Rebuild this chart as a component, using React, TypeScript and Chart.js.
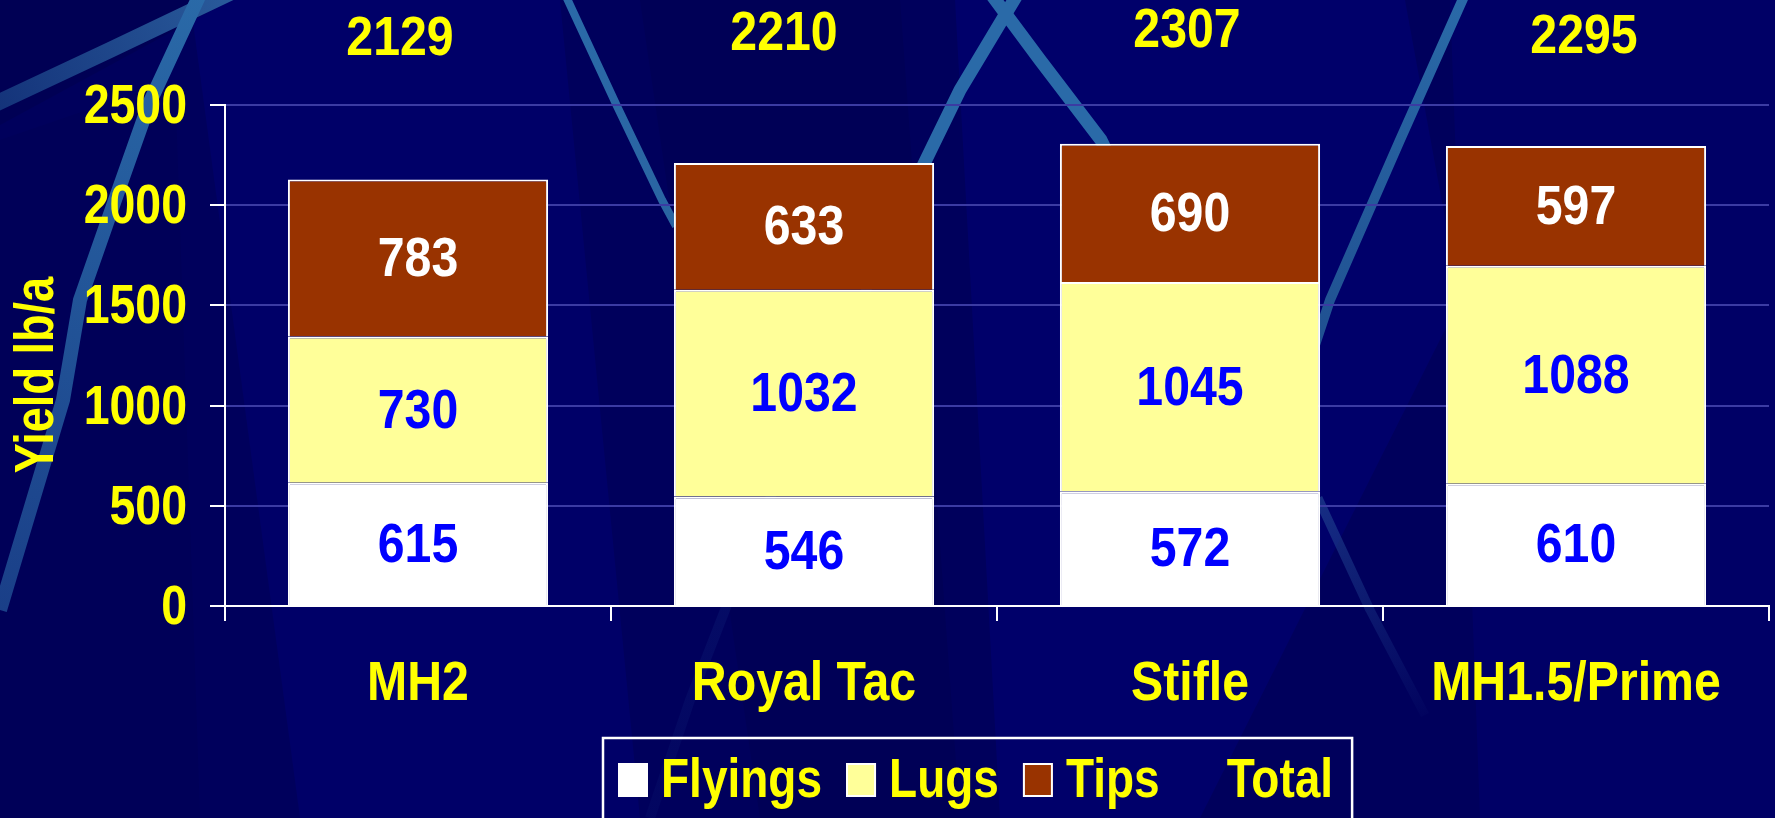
import React, { useEffect, useRef } from "react";
import { Chart, registerables } from "chart.js";

Chart.register(...registerables);

// ---------- data ----------
const categories = ["MH2", "Royal Tac", "Stifle", "MH1.5/Prime"];
const flyings = [615, 546, 572, 610];
const lugs = [730, 1032, 1045, 1088];
const tips = [783, 633, 690, 597];
const totals = [2129, 2210, 2307, 2295];
const yTicks = [0, 500, 1000, 1500, 2000, 2500];
const seriesNames = ["Flyings", "Lugs", "Tips"];
const totalName = "Total";
const yTitle = "Yield lb/a";

// ---------- style ----------
const W = 1775;
const H = 818;
const YELLOW = "#FFFF00";
const BLUE = "#0000FF";
const WHITE = "#FFFFFF";
const SERIES_COLORS = ["#FFFFFF", "#FFFF99", "#993300"];
const LABEL_COLORS = [BLUE, BLUE, WHITE];
const TOTAL_NUDGE_X = [-18, -20, -3, 8];
const TOTAL_NUDGE_Y = [0, -5, -8, -2];
const FONT_PX = 55;
const SQUEEZE = 0.82;

function detectNarrow(): boolean {
  try {
    const c = document.createElement("canvas").getContext("2d");
    if (!c) return false;
    const s = "Flyings Royal Tac 0123456789";
    c.font = `bold 50px serif`;
    const a = c.measureText(s).width;
    c.font = `bold 50px 'Liberation Sans Narrow', serif`;
    const b = c.measureText(s).width;
    return Math.abs(a - b) > 1;
  } catch (e) {
    return false;
  }
}

let NARROW = false;

function fontStr() {
  return NARROW
    ? `bold ${FONT_PX}px 'Liberation Sans Narrow'`
    : `bold ${FONT_PX}px 'Liberation Sans', Arial, sans-serif`;
}

function drawText(
  ctx: CanvasRenderingContext2D,
  s: string,
  x: number,
  y: number,
  color: string,
  align: CanvasTextAlign,
  sx = 1,
  rotate = 0
) {
  ctx.save();
  ctx.translate(x, y);
  if (rotate) ctx.rotate(rotate);
  ctx.font = fontStr();
  ctx.scale(sx * (NARROW ? 1 : SQUEEZE), 1);
  ctx.textAlign = align;
  ctx.textBaseline = "alphabetic";
  ctx.fillStyle = color;
  ctx.fillText(s, 0, 0);
  ctx.restore();
}

function textWidth(ctx: CanvasRenderingContext2D, s: string, sx = 1) {
  ctx.save();
  ctx.font = fontStr();
  const w = ctx.measureText(s).width * sx * (NARROW ? 1 : SQUEEZE);
  ctx.restore();
  return w;
}

function streak(
  ctx: CanvasRenderingContext2D,
  pts: number[][],
  width: number,
  c1: string,
  c2: string
) {
  const g = ctx.createLinearGradient(pts[0][0], pts[0][1], pts[pts.length - 1][0], pts[pts.length - 1][1]);
  g.addColorStop(0, c1);
  g.addColorStop(1, c2);
  ctx.beginPath();
  ctx.moveTo(pts[0][0], pts[0][1]);
  for (let i = 1; i < pts.length; i++) ctx.lineTo(pts[i][0], pts[i][1]);
  ctx.strokeStyle = g;
  ctx.lineWidth = width;
  ctx.lineCap = "butt";
  ctx.lineJoin = "round";
  ctx.stroke();
}

function poly(ctx: CanvasRenderingContext2D, pts: number[][], color: string) {
  ctx.beginPath();
  ctx.moveTo(pts[0][0], pts[0][1]);
  for (let i = 1; i < pts.length; i++) ctx.lineTo(pts[i][0], pts[i][1]);
  ctx.closePath();
  ctx.fillStyle = color;
  ctx.fill();
}

const backgroundPlugin = {
  id: "slideBackground",
  beforeDraw(chart: any) {
    const ctx: CanvasRenderingContext2D = chart.ctx;
    ctx.save();
    ctx.fillStyle = "#00005C";
    ctx.fillRect(0, 0, chart.width, chart.height);
    // subtle facets
    poly(ctx, [[190, 0], [560, 0], [640, 818], [300, 818]], "#000068");
    poly(ctx, [[0, 125], [230, 0], [0, 0]], "#000054");
    poly(ctx, [[0, 140], [175, 80], [200, 818], [0, 818]], "#000058");
    poly(ctx, [[955, 0], [1405, 0], [1460, 300], [1200, 818], [1000, 818]], "#00006A");
    poly(ctx, [[1450, 0], [1775, 0], [1775, 818], [1480, 818]], "#000066");
    poly(ctx, [[640, 0], [900, 0], [960, 818], [760, 818]], "#000056");
    // light streaks
    streak(ctx, [[-5, 104], [110, 50], [240, -12]], 16, "#14337a", "#2a5c9c");
    streak(ctx, [[201, -8], [149, 104], [115, 200], [80, 300], [63, 400], [0, 610]], 14, "#2a6aa8", "#1a3f88");
    streak(ctx, [[564, -8], [616, 104], [662, 200], [676, 226]], 8, "#2a6aa8", "#2a64a2");
    streak(ctx, [[1020, -10], [960, 90], [921, 170], [880, 260]], 13, "#2a6aa8", "#2a6aa8");
    streak(ctx, [[880, 260], [760, 520], [690, 700], [650, 818]], 10, "rgba(30,70,150,0.3)", "rgba(30,70,150,0.08)");
    streak(ctx, [[988, -10], [1040, 60], [1101, 140], [1130, 200]], 13, "#2a6aa8", "#2a6aa8");
    streak(ctx, [[1466, -8], [1400, 140], [1330, 300], [1310, 360]], 10, "#2a6aa8", "#1f4f90");
    streak(ctx, [[1318, 498], [1370, 610], [1425, 715]], 9, "rgba(30,62,140,0.75)", "rgba(30,62,140,0.05)");
    ctx.restore();
  },
};

const labelsPlugin = {
  id: "slideLabels",
  afterDraw(chart: any) {
    const ctx: CanvasRenderingContext2D = chart.ctx;
    const xs = chart.scales.x;
    const ys = chart.scales.y;

    // y tick labels
    yTicks.forEach((v) => {
      const y = ys.getPixelForValue(v);
      drawText(ctx, String(v), 187, y + 18, YELLOW, "right", 1.03);
    });

    // category labels
    categories.forEach((c, i) => {
      drawText(ctx, c, xs.getPixelForValue(i), 700, YELLOW, "center", 1.07);
    });

    // y title
    drawText(ctx, yTitle, 53, 375, YELLOW, "center", 1, -Math.PI / 2);

    // segment value labels
    chart.data.datasets.forEach((ds: any, di: number) => {
      const meta = chart.getDatasetMeta(di);
      meta.data.forEach((el: any, i: number) => {
        const cy = (el.y + el.base) / 2;
        drawText(ctx, String(ds.data[i]), el.x, cy + 18, LABEL_COLORS[di], "center", 1.07);
      });
    });

    // totals
    const meta0 = chart.getDatasetMeta(0);
    totals.forEach((t, i) => {
      const x = meta0.data[i].x + TOTAL_NUDGE_X[i];
      drawText(ctx, String(t), x, 55 + TOTAL_NUDGE_Y[i], YELLOW, "center", 1.07);
    });

    // legend
    ctx.save();
    const left = 603;
    const top = 738;
    const boxW = 30;
    const boxH = 34;
    const baseline = 797;
    const lsx = 1.02;
    let x = 618;
    const items = [...seriesNames.map((n, i) => ({ n, c: SERIES_COLORS[i] })), { n: totalName, c: "" }];
    items.forEach((it) => {
      if (it.c) {
        ctx.fillStyle = it.c;
        ctx.fillRect(x, baseline - boxH, boxW, boxH);
        ctx.strokeStyle = WHITE;
        ctx.lineWidth = 2;
        ctx.strokeRect(x + 1, baseline - boxH + 1, boxW - 2, boxH - 2);
      }
      x += boxW + 13;
      drawText(ctx, it.n, x, baseline, YELLOW, "left", lsx);
      x += textWidth(ctx, it.n, lsx) + 24;
    });
    const right = x - 24 + 19;
    ctx.strokeStyle = WHITE;
    ctx.lineWidth = 2.5;
    ctx.strokeRect(left, top, right - left, 120);
    ctx.restore();
  },
};

export default function App() {
  const ref = useRef<HTMLCanvasElement | null>(null);

  useEffect(() => {
    document.body.style.margin = "0";
    NARROW = detectNarrow();
    const canvas = ref.current;
    if (!canvas) return;
    const chart = new Chart(canvas, {
      type: "bar",
      data: {
        labels: categories,
        datasets: [
          { label: seriesNames[0], data: flyings },
          { label: seriesNames[1], data: lugs },
          { label: seriesNames[2], data: tips },
        ].map((d, i) => ({
          ...d,
          backgroundColor: SERIES_COLORS[i],
          borderColor: WHITE,
          borderWidth: 2,
          barPercentage: 0.674,
          categoryPercentage: 1,
        })),
      },
      options: {
        responsive: false,
        animation: false,
        events: [],
        layout: { padding: { top: 105, right: 6, left: 0, bottom: 0 } },
        plugins: {
          legend: { display: false },
          tooltip: { enabled: false },
          title: { display: false },
        },
        scales: {
          x: {
            stacked: true,
            grid: {
              offset: true,
              drawOnChartArea: false,
              tickLength: 15,
              tickColor: WHITE,
              tickWidth: 2,
              lineWidth: 2,
            },
            border: { color: WHITE, width: 2 },
            ticks: { display: false },
            afterFit: (s: any) => {
              s.height = 212;
            },
          },
          y: {
            stacked: true,
            min: 0,
            max: 2500,
            ticks: { stepSize: 500, display: false },
            grid: {
              color: (c: any) => (c.tick && c.tick.value === 0 ? "rgba(0,0,0,0)" : "#3B3BA3"),
              lineWidth: 2,
              tickLength: 15,
              tickColor: WHITE,
              tickWidth: 2,
            },
            border: { color: WHITE, width: 2 },
            afterFit: (s: any) => {
              s.width = 225;
            },
          },
        },
      } as any,
      plugins: [backgroundPlugin, labelsPlugin],
    });
    return () => chart.destroy();
  }, []);

  return (
    <div style={{ position: "fixed", left: 0, top: 0, width: W, height: H }}>
      <canvas ref={ref} width={W} height={H} style={{ width: W, height: H, display: "block" }} />
    </div>
  );
}
